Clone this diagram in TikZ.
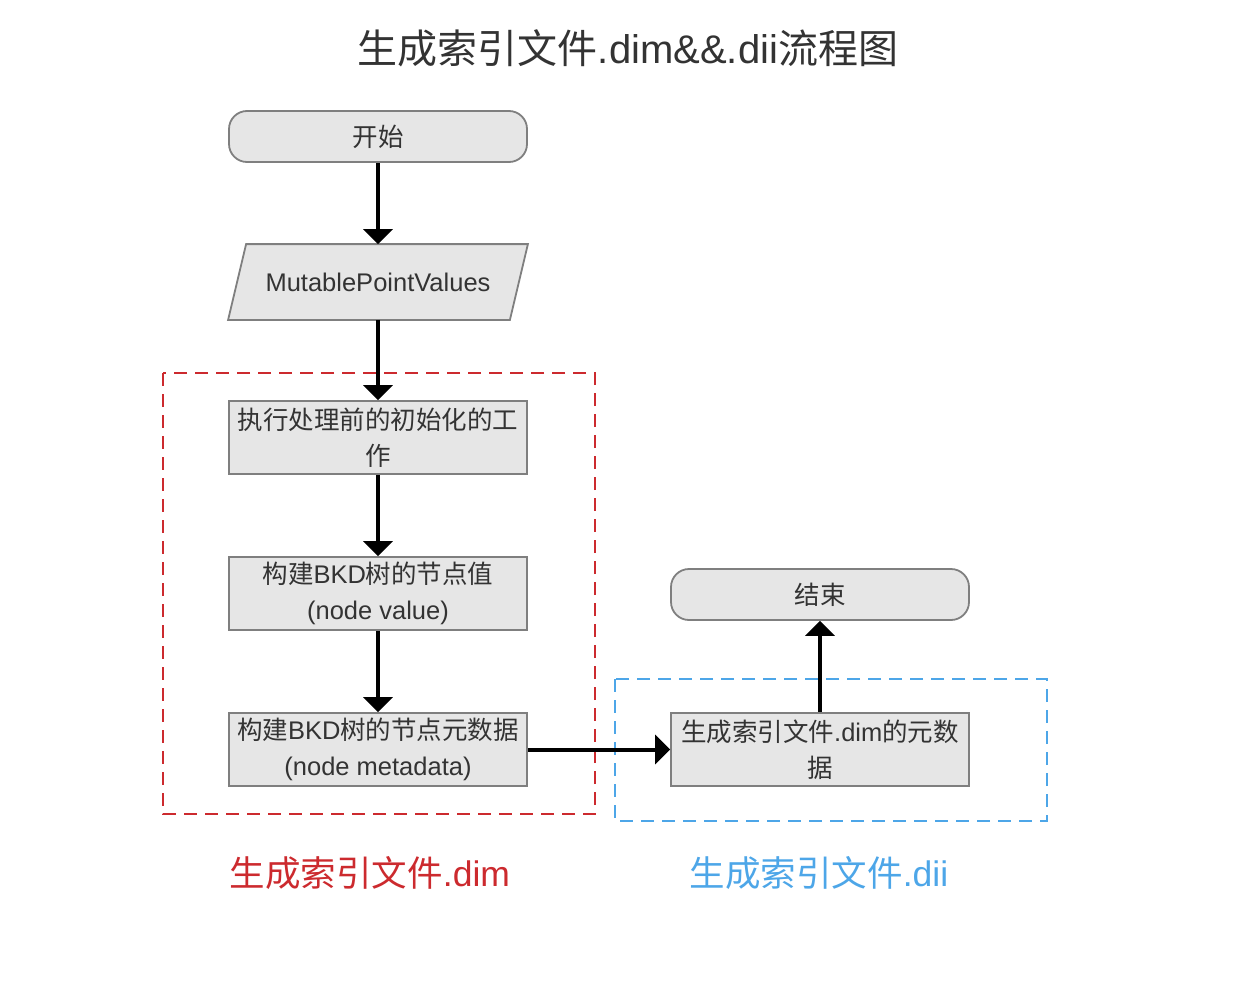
\documentclass[tikz,border=0pt]{standalone}
\usepackage{fontspec}
\setmainfont{Liberation Sans}
\newfontfamily\cjk{Noto Sans CJK SC}
\usetikzlibrary{arrows.meta}
\definecolor{boxfill}{HTML}{E6E6E6}
\definecolor{boxline}{HTML}{7F7F7F}
\definecolor{txt}{HTML}{333333}
\definecolor{redgrp}{HTML}{CC2A2E}
\definecolor{bluegrp}{HTML}{4DA6E8}
\begin{document}
\begin{tikzpicture}[x=1pt,y=-1pt,
  base/.style={draw=boxline,fill=boxfill,line width=1.8pt,text=txt,font=\fontsize{25.5}{36}\selectfont,align=center,inner sep=0pt},
  term/.style={base,rounded corners=18pt,minimum width=298pt,minimum height=51pt},
  proc/.style={base,minimum width=298pt,minimum height=73pt},
  iotext/.style={base,draw=none,fill=none,minimum width=298pt,minimum height=74pt},
  flow/.style={line width=4pt,-{Triangle[width=29pt,length=15pt]}},
  grp/.style={line width=1.8pt,dash pattern=on 13pt off 8pt},
  grplabel/.style={font=\fontsize{35.5}{40}\selectfont}
]
\useasboundingbox (0,0) rectangle (1238,980);
\node[text=txt,font=\fontsize{40}{44}\selectfont] (title) at (628,48) {{\cjk 生成索引文件}.dim\&\&.dii{\cjk 流程图}};
\draw[grp,draw=redgrp] (163,373) rectangle (595,814);
\draw[grp,draw=bluegrp] (615,679) rectangle (1047,821);
\node[term] (start) at (378,136.5) {\cjk 开始};
\node[iotext] (input) at (378,282) {};
\draw[draw=boxline,fill=boxfill,line width=1.8pt,line join=miter]
  ([xshift=18pt]input.north west) -- (input.north east) -- ([xshift=-18pt]input.south east) -- (input.south west) -- cycle;
\node[text=txt,font=\fontsize{25.5}{36}\selectfont] (inputlabel) at (input.center) {MutablePointValues};
\node[proc] (init) at (378,437.5) {{\cjk 执行处理前的初始化的工}\\{\cjk 作}};
\node[proc] (value) at (378,593.5) {{\cjk 构建}BKD{\cjk 树的节点值}\\(node value)};
\node[proc] (meta) at (378,749.5) {{\cjk 构建}BKD{\cjk 树的节点元数据}\\(node metadata)};
\node[proc] (dim) at (820,749.5) {{\cjk 生成索引文件}.dim{\cjk 的元数}\\{\cjk 据}};
\node[term] (end) at (820,594.5) {\cjk 结束};
\node[grplabel,text=redgrp] (lblred) at (370,873) {{\cjk 生成索引文件}.dim};
\node[grplabel,text=bluegrp] (lblblue) at (819,873) {{\cjk 生成索引文件}.dii};
\draw[flow] (start) -- (input);
\draw[flow] (input) -- (init);
\draw[flow] (init) -- (value);
\draw[flow] (value) -- (meta);
\draw[flow] (meta) -- (dim);
\draw[flow] (dim) -- (end);
\end{tikzpicture}
\end{document}
